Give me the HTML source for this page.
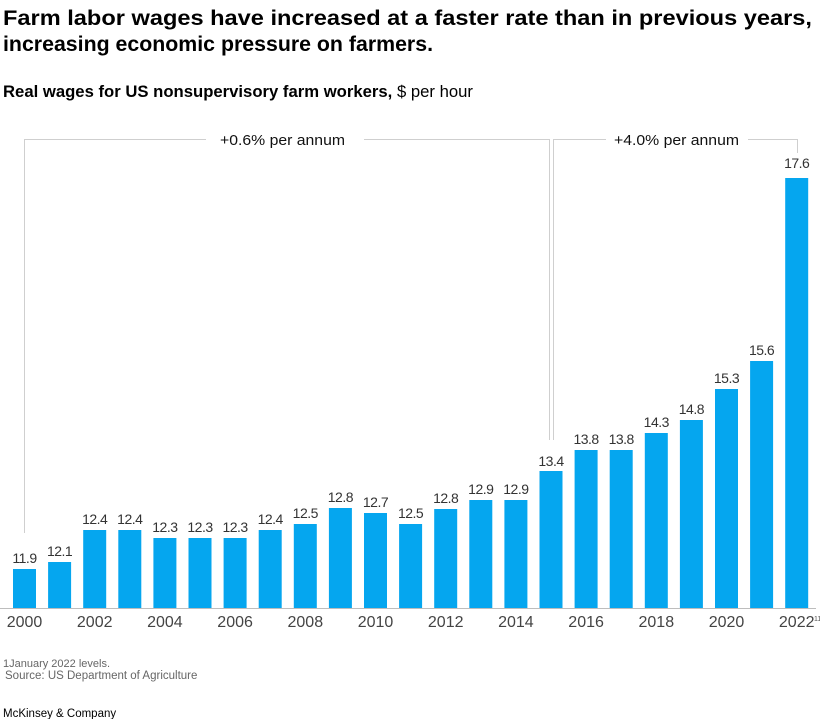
<!DOCTYPE html>
<html><head><meta charset="utf-8"><style>
html,body{margin:0;padding:0;background:#fff;}
svg{display:block;font-family:"Liberation Sans",Arial,sans-serif;}
.v{font-size:14px;fill:#333;text-anchor:middle;letter-spacing:-0.5px;}
.t{font-size:16px;fill:#444;text-anchor:middle;}
</style></head><body>
<svg width="820" height="719" viewBox="0 0 820 719" xmlns="http://www.w3.org/2000/svg">
<rect width="820" height="719" fill="#fff"/>
<text x="3" y="25" font-size="21" font-weight="bold" fill="#000" textLength="809" lengthAdjust="spacingAndGlyphs">Farm labor wages have increased at a faster rate than in previous years,</text>
<text x="3" y="51" font-size="21" font-weight="bold" fill="#000" textLength="430" lengthAdjust="spacingAndGlyphs">increasing economic pressure on farmers.</text>
<text x="3" y="97" font-size="16.5" fill="#000" textLength="470" lengthAdjust="spacingAndGlyphs"><tspan font-weight="bold">Real wages for US nonsupervisory farm workers,</tspan> $ per hour</text>

<g fill="none" stroke="#cfcfcf" stroke-width="1">
<path d="M24.5,533 V139.5 H206"/>
<path d="M364,139.5 H549.5 V440"/>
<path d="M553.5,440 V139.5 H606"/>
<path d="M748,139.5 H797.5 V153"/>
</g>
<text x="220" y="145" font-size="15" fill="#111" textLength="125" lengthAdjust="spacingAndGlyphs">+0.6% per annum</text>
<text x="614" y="145" font-size="15" fill="#111" textLength="125" lengthAdjust="spacingAndGlyphs">+4.0% per annum</text>

<g fill="#05a6ef">
<rect x="13" y="569" width="23" height="39"/>
<rect x="48.1" y="562" width="23" height="46"/>
<rect x="83.2" y="530" width="23" height="78"/>
<rect x="118.3" y="530" width="23" height="78"/>
<rect x="153.4" y="538" width="23" height="70"/>
<rect x="188.5" y="538" width="23" height="70"/>
<rect x="223.6" y="538" width="23" height="70"/>
<rect x="258.7" y="530" width="23" height="78"/>
<rect x="293.8" y="524" width="23" height="84"/>
<rect x="328.9" y="508" width="23" height="100"/>
<rect x="364" y="513" width="23" height="95"/>
<rect x="399.1" y="524" width="23" height="84"/>
<rect x="434.2" y="509" width="23" height="99"/>
<rect x="469.3" y="500" width="23" height="108"/>
<rect x="504.4" y="500" width="23" height="108"/>
<rect x="539.5" y="471" width="23" height="137"/>
<rect x="574.6" y="450" width="23" height="158"/>
<rect x="609.7" y="450" width="23" height="158"/>
<rect x="644.8" y="433" width="23" height="175"/>
<rect x="679.9" y="420" width="23" height="188"/>
<rect x="715" y="389" width="23" height="219"/>
<rect x="750.1" y="361" width="23" height="247"/>
<rect x="785.2" y="178" width="23" height="430"/>
</g>

<g class="v">
<text class="v" x="24.5" y="563">11.9</text>
<text class="v" x="59.6" y="556">12.1</text>
<text class="v" x="94.7" y="524">12.4</text>
<text class="v" x="129.8" y="524">12.4</text>
<text class="v" x="164.9" y="532">12.3</text>
<text class="v" x="200" y="532">12.3</text>
<text class="v" x="235.1" y="532">12.3</text>
<text class="v" x="270.2" y="524">12.4</text>
<text class="v" x="305.3" y="518">12.5</text>
<text class="v" x="340.4" y="502">12.8</text>
<text class="v" x="375.5" y="507">12.7</text>
<text class="v" x="410.6" y="518">12.5</text>
<text class="v" x="445.7" y="503">12.8</text>
<text class="v" x="480.8" y="494">12.9</text>
<text class="v" x="515.9" y="494">12.9</text>
<text class="v" x="551" y="466">13.4</text>
<text class="v" x="586.1" y="444">13.8</text>
<text class="v" x="621.2" y="444">13.8</text>
<text class="v" x="656.3" y="427">14.3</text>
<text class="v" x="691.4" y="414">14.8</text>
<text class="v" x="726.5" y="383">15.3</text>
<text class="v" x="761.6" y="355">15.6</text>
<text class="v" x="796.7" y="168">17.6</text>
</g>

<line x1="0" y1="608.5" x2="816" y2="608.5" stroke="#bdbdbd" stroke-width="1"/>

<text class="t" x="24.5" y="627">2000</text>
<text class="t" x="94.7" y="627">2002</text>
<text class="t" x="164.9" y="627">2004</text>
<text class="t" x="235.1" y="627">2006</text>
<text class="t" x="305.3" y="627">2008</text>
<text class="t" x="375.5" y="627">2010</text>
<text class="t" x="445.7" y="627">2012</text>
<text class="t" x="515.9" y="627">2014</text>
<text class="t" x="586.1" y="627">2016</text>
<text class="t" x="656.3" y="627">2018</text>
<text class="t" x="726.5" y="627">2020</text>
<text class="t" x="796.7" y="627">2022</text>
<text x="814" y="621" font-size="7" fill="#555">11</text>

<text x="3" y="667" font-size="11" fill="#666">1January 2022 levels.</text>
<text x="5" y="679" font-size="11.5" fill="#666">Source: US Department of Agriculture</text>
<text x="3" y="717" font-size="11.5" fill="#000">McKinsey &amp; Company</text>
</svg>
</body></html>
